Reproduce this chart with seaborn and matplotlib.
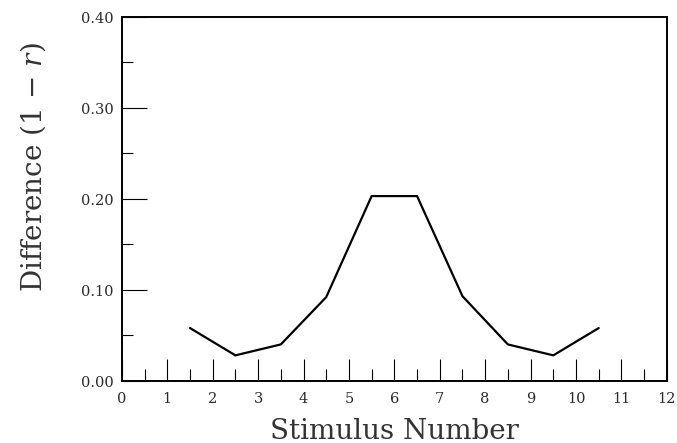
import numpy as np
import pandas as pd
import matplotlib
matplotlib.use("Agg")
import matplotlib.pyplot as plt
import seaborn as sns
from matplotlib.ticker import MultipleLocator, FormatStrFormatter

stimulus = [1.5, 2.5, 3.5, 4.5, 5.5, 6.5, 7.5, 8.5, 9.5, 10.5]
difference = [0.058, 0.028, 0.040, 0.092, 0.203, 0.203, 0.093, 0.040, 0.028, 0.058]

sns.set_theme(style="ticks")
plt.rcParams['font.family'] = ['DejaVu Serif']
plt.rcParams['mathtext.fontset'] = 'dejavuserif'

df = pd.DataFrame({"Stimulus Number": stimulus, "Difference": difference})

fig = plt.figure(figsize=6.77 * np.array([1, 444 / 677]), dpi=100)
ax = fig.add_axes([0.180, 0.140, 0.805, 0.820])
sns.lineplot(data=df, x="Stimulus Number", y="Difference", ax=ax,
             color="black", linewidth=1.6)

ax.set_xlim(0, 12)
ax.set_ylim(0, 0.40)
ax.xaxis.set_major_locator(MultipleLocator(1))
ax.xaxis.set_minor_locator(MultipleLocator(0.5))
ax.yaxis.set_major_locator(MultipleLocator(0.1))
ax.yaxis.set_minor_locator(MultipleLocator(0.05))
ax.yaxis.set_major_formatter(FormatStrFormatter("%.2f"))

ax.tick_params(axis="both", which="both", direction="in", color="black",
               width=0.8, labelsize=10.5, labelcolor="#2a2a2a")
ax.tick_params(axis="x", which="major", length=16, pad=7)
ax.tick_params(axis="x", which="minor", length=9)
ax.tick_params(axis="y", which="major", length=18, pad=6)
ax.tick_params(axis="y", which="minor", length=8)

for s in ax.spines.values():
    s.set_visible(True)
    s.set_color("black")
    s.set_linewidth(1.4)

ax.set_xlabel("Stimulus Number", fontsize=20, color="#333333", fontweight="light")
ax.set_ylabel("Difference (1 \u2212 $r$)", fontsize=20, color="#333333", fontweight="light")
ax.xaxis.set_label_coords(0.50, -0.098)
ax.yaxis.set_label_coords(-0.135, 0.59)

fig.savefig("out.png", dpi=100, facecolor="white")
